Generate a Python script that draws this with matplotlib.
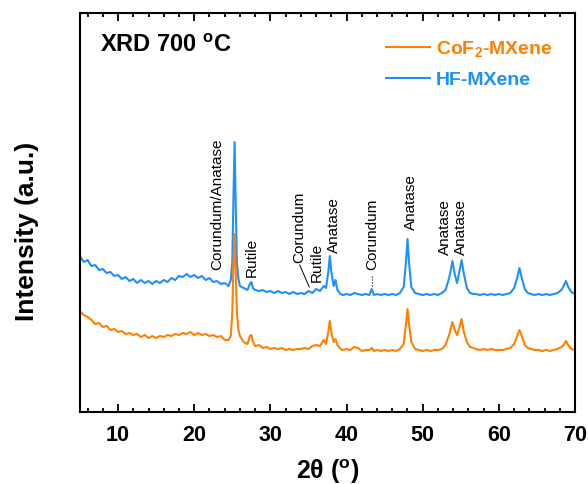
import matplotlib
matplotlib.use('Agg')
import matplotlib.pyplot as plt
from matplotlib.lines import Line2D

plt.rcParams['font.family'] = ['Liberation Sans', 'DejaVu Sans']
plt.rcParams['mathtext.fontset'] = 'custom'
plt.rcParams['mathtext.rm'] = 'Liberation Sans'
plt.rcParams['mathtext.bf'] = 'Liberation Sans:bold'

# 2theta positions (deg)
tth = [5.0, 5.5, 6.0, 6.5, 7.0, 7.5, 8.0, 8.5, 9.0, 9.5, 10.0, 10.5, 11.0, 11.5,
       12.0, 12.5, 13.0, 13.5, 14.0, 14.5, 15.0, 15.5, 16.0, 16.5, 17.0, 17.5,
       18.0, 18.5, 19.0, 19.5, 20.0, 20.5, 21.0, 21.5, 22.0, 22.5, 23.0, 23.5,
       24.0, 24.5, 24.8, 25.0, 25.15, 25.3, 25.45, 25.6, 25.8, 26.0, 26.5, 27.0,
       27.3, 27.5, 27.7, 28.0, 28.5, 29.0, 29.5, 30.0, 30.5, 31.0, 31.5, 32.0,
       32.5, 33.0, 33.5, 34.0, 34.5, 35.0, 35.5, 36.0, 36.5, 37.0, 37.3, 37.6,
       37.8, 38.0, 38.3, 38.55, 38.8, 39.2, 39.5, 40.0, 40.5, 41.0, 41.5, 42.0,
       42.5, 43.0, 43.3, 43.6, 44.0, 44.5, 45.0, 45.5, 46.0, 46.5, 47.0, 47.5,
       47.8, 48.0, 48.2, 48.5, 49.0, 49.5, 50.0, 50.5, 51.0, 51.5, 52.0, 52.5,
       53.0, 53.5, 53.9, 54.2, 54.5, 54.8, 55.1, 55.4, 55.8, 56.2, 56.6, 57.0,
       57.5, 58.0, 58.5, 59.0, 59.5, 60.0, 60.5, 61.0, 61.5, 62.0, 62.4, 62.7,
       63.0, 63.4, 63.8, 64.2, 64.7, 65.2, 65.7, 66.2, 66.7, 67.2, 67.7, 68.2,
       68.5, 68.8, 69.1, 69.5, 70.0]

# HF-MXene (offset trace)
hf = [156, 150, 152, 146, 147, 142, 143, 139, 140, 136, 137, 133, 135, 131,
      133, 129, 132, 129, 131, 128, 131, 129, 132, 130, 134, 132,
      136, 135, 138, 135, 137, 134, 136, 132, 134, 130, 131, 128,
      129, 126, 132, 150, 215, 270, 205, 150, 133, 126, 124, 122,
      128, 130, 124, 122, 121, 122, 120, 121, 119, 121, 119, 120,
      118, 120, 118, 119, 118, 121, 119, 123, 121, 126, 124, 140,
      156, 140, 126, 132, 122, 118, 117, 118, 117, 119, 118, 117,
      118, 117, 123, 117, 118, 117, 118, 117, 118, 117, 119, 125,
      150, 173, 150, 125, 119, 118, 117, 118, 117, 118, 117, 119,
      122, 135, 151, 138, 129, 140, 152, 138, 124, 119, 118, 118,
      117, 118, 117, 118, 117, 118, 117, 118, 119, 124, 134, 144,
      134, 123, 119, 118, 117, 118, 117, 118, 117, 118, 119, 122,
      126, 131, 125, 120, 118]

# CoF2-MXene
cof2 = [101, 97, 95, 92, 88, 89, 85, 86, 82, 83, 80, 81, 78, 79,
        77, 78, 75, 77, 74, 76, 74, 76, 75, 77, 76, 78,
        77, 79, 78, 80, 77, 79, 77, 78, 76, 77, 75, 76,
        72, 72, 76, 100, 150, 178, 140, 100, 82, 76, 70, 68,
        76, 77, 70, 66, 67, 64, 65, 63, 64, 63, 64, 62,
        63, 62, 63, 63, 64, 63, 66, 67, 66, 72, 68, 80,
        91, 80, 70, 73, 67, 63, 62, 63, 62, 65, 64, 61,
        62, 62, 64, 61, 62, 61, 62, 61, 62, 61, 63, 68,
        88, 103, 88, 70, 63, 62, 61, 62, 61, 62, 62, 63,
        67, 78, 90, 82, 77, 84, 93, 80, 70, 65, 64, 63,
        62, 63, 62, 63, 62, 62, 62, 63, 64, 68, 76, 82,
        76, 67, 64, 63, 62, 62, 61, 62, 61, 62, 63, 65,
        67, 71, 67, 63, 62]

phase_labels = ['Corundum/Anatase', 'Rutile', 'Corundum', 'Rutile', 'Anatase',
                'Corundum', 'Anatase', 'Anatase', 'Anatase']
label_x = [23.0, 27.6, 33.8, 36.1, 38.3, 43.4, 48.5, 52.9, 55.0]
label_y = [143, 136, 150, 131, 160, 143, 183, 158, 158]

orange = '#FF8000'
blue = '#1E90FF'

fig = plt.figure(figsize=(5.88, 4.85), dpi=100)
ax = fig.add_axes([0.136, 0.1485, 0.842, 0.8225])

ax.plot(tth, hf, color=blue, lw=1.5)
ax.plot(tth, cof2, color=orange, lw=1.5)

for lab, x, y in zip(phase_labels, label_x, label_y):
    ax.text(x, y, lab, rotation=90, ha='center', va='bottom', fontsize=11)

# leader lines
ax.plot([33.85, 35.1], [147, 125], color='k', lw=0.7)
ax.plot([43.35, 43.35], [136, 125], color='k', lw=0.8, ls=':')

ax.set_xlim(5, 70)
ax.set_ylim(0, 399)
ax.set_xticks([10, 20, 30, 40, 50, 60, 70])
ax.set_xticks(range(6, 70, 2), minor=True)
ax.set_yticks([])
ax.tick_params(axis='x', which='both', direction='in', top=True, width=1.3)
ax.tick_params(axis='x', which='major', length=6, labelsize=15.5, pad=9)
ax.tick_params(axis='x', which='minor', length=3)
for t in ax.get_xticklabels():
    t.set_fontweight('bold')
for s in ax.spines.values():
    s.set_linewidth(1.5)

ax.set_xlabel(r'2θ ($^{\bf o}$)', fontsize=18, fontweight='bold', labelpad=8)
ax.set_ylabel('Intensity (a.u.)', fontsize=19, fontweight='bold')
ax.yaxis.set_label_coords(-0.083, 0.455)

ax.text(0.04, 0.922, r'XRD 700 $^{\bf o}$C', transform=ax.transAxes,
        fontsize=17, fontweight='bold', va='center', ha='left')

handles = [Line2D([], [], color=orange, lw=1.5), Line2D([], [], color=blue, lw=1.5)]
leg = ax.legend(handles, [r'CoF$_{\bf 2}$-MXene', 'HF-MXene'], loc='upper right',
                bbox_to_anchor=(0.975, 0.96), frameon=False, borderpad=0,
                handlelength=2.3, handletextpad=0.3, labelspacing=0.6,
                prop={'weight': 'bold', 'size': 14}, labelcolor=[orange, blue])

fig.savefig('out.png', dpi=100)
